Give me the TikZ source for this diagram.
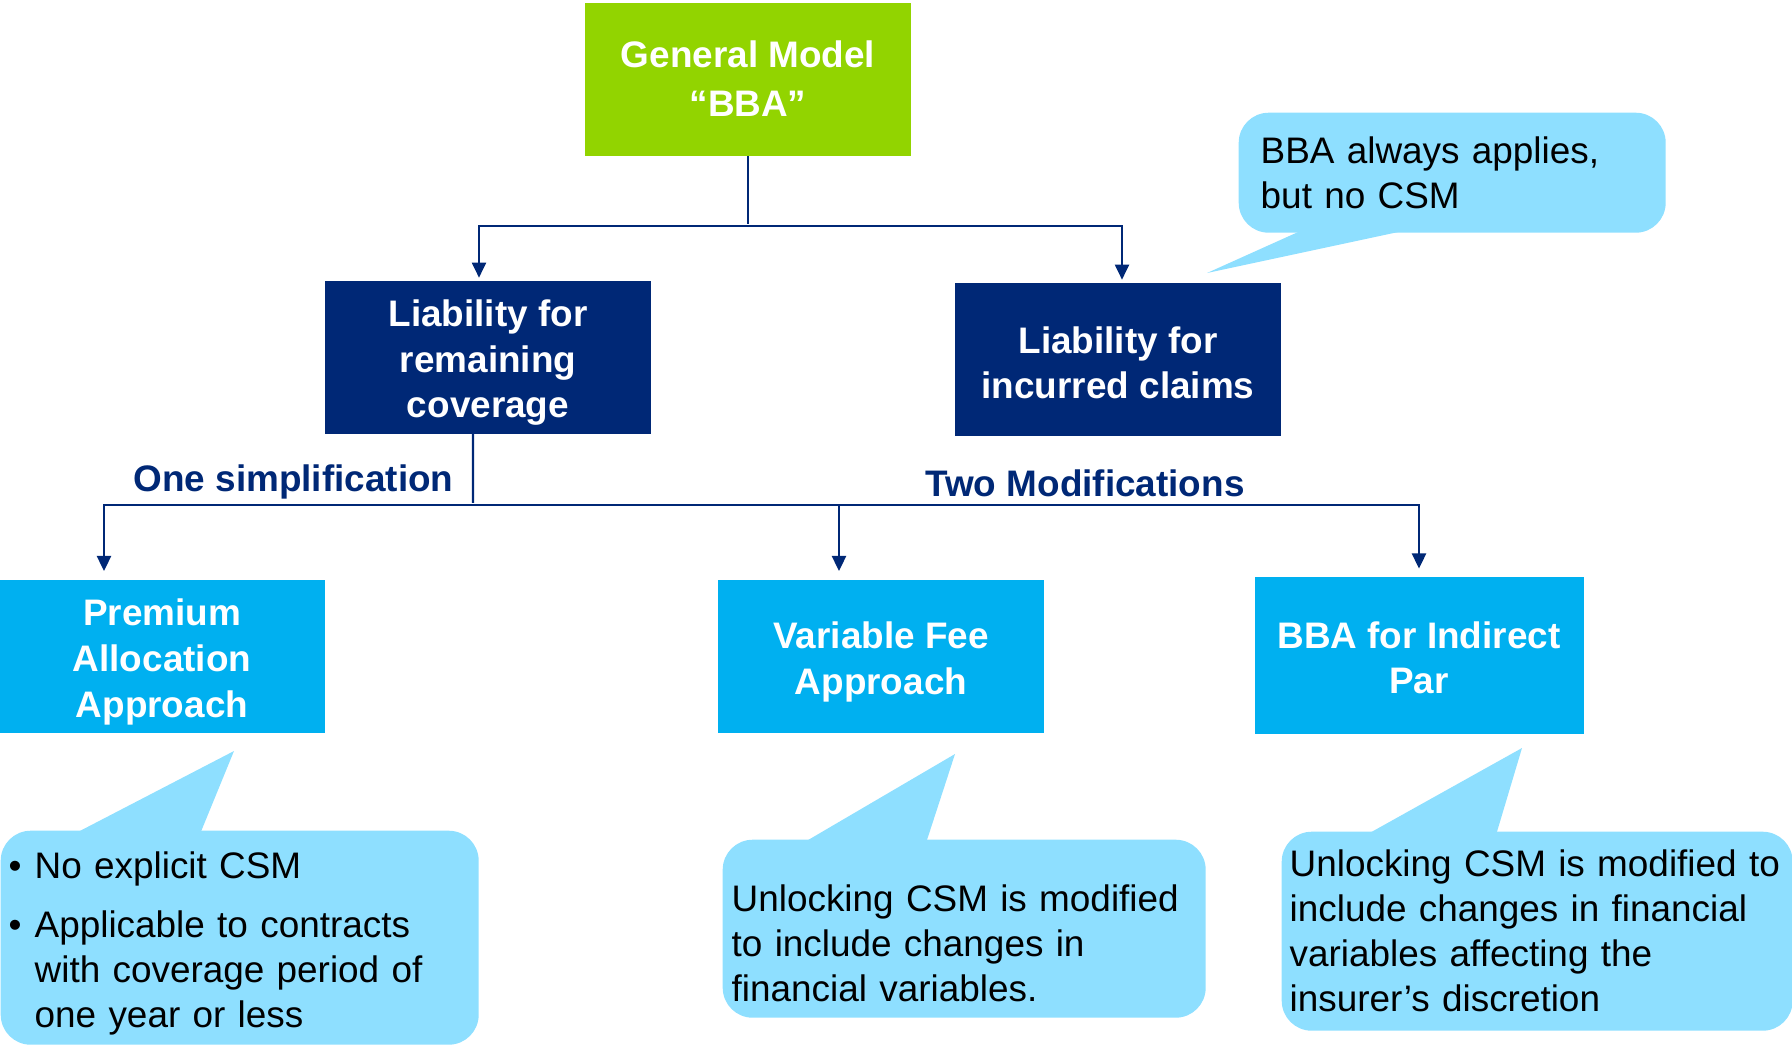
\documentclass[tikz,border=0pt]{standalone}
\usepackage{fontspec}
\setmainfont{Liberation Sans}
\usetikzlibrary{arrows.meta,positioning,calc}
\definecolor{modelgreen}{RGB}{146,212,0}
\definecolor{liabnavy}{RGB}{0,40,118}
\definecolor{approachcyan}{RGB}{0,176,240}
\definecolor{notecyan}{RGB}{142,223,255}

\begin{document}
\begin{tikzpicture}[
    block/.style={minimum width=3.26cm, minimum height=1.53cm, inner sep=0, align=center, text=white, font=\bfseries\fontsize{10.5}{13}\selectfont},
    link/.style={draw=liabnavy, line width=0.6pt, -{Triangle[width=4pt,length=4.3pt]}, shorten >=0.6pt},
    note/.style={fill=notecyan, rounded corners=0.3cm, anchor=north west, align=left, inner ysep=0, font=\fontsize{10.5}{12.8}\selectfont},
    tail/.style={fill=notecyan},
    tag/.style={anchor=base, text=liabnavy, font=\bfseries\fontsize{10.5}{12}\selectfont}
]
    \useasboundingbox (0,0) rectangle (17.92,-10.44);

    % Blocks
    \node[block, fill=modelgreen, font=\bfseries\fontsize{10.5}{14}\selectfont] (model) at (7.48,-0.79) {General Model\\“BBA”};
    \node[block, fill=liabnavy] (remaining) at (4.88,-3.57) {\rule{0pt}{10.9pt}Liability for\\remaining\\coverage};
    \node[block, fill=liabnavy] (incurred) at (11.18,-3.59) {\rule{0pt}{9.7pt}Liability for\\incurred claims};
    \node[block, fill=approachcyan] (paa) at (1.62,-6.56) {\rule{0pt}{10.9pt}Premium\\Allocation\\Approach};
    \node[block, fill=approachcyan] (vfa) at (8.81,-6.56) {\rule{0pt}{10.9pt}Variable Fee\\Approach};
    \node[block, fill=approachcyan, minimum width=3.29cm, minimum height=1.57cm] (indirect) at (14.19,-6.555) {\rule{0pt}{8.9pt}BBA for Indirect\\Par};

    % Connections
    \coordinate (upsplit) at (7.48,-2.26);
    \coordinate (downsplit) at (4.73,-5.05);
    \draw[link, -] (model.south) -- (upsplit);
    \draw[link] (upsplit) -| ([xshift=-0.09cm]remaining.north);
    \draw[link] (upsplit) -| ([xshift=0.04cm]incurred.north);
    \draw[link, -] ([xshift=-0.15cm]remaining.south) -- (downsplit);
    \draw[link, shorten >=2.2pt] (downsplit) -| ([xshift=-0.58cm]paa.north);
    \draw[link, shorten >=2.2pt] (downsplit) -| ([xshift=-0.42cm]vfa.north);
    \draw[link, shorten >=2.2pt] (downsplit) -| (indirect.north);

    % Labels
    \node[tag] (simplify) at (2.935,-4.91) {One simplification};
    \node[tag] (modify) at (10.85,-4.96) {Two Modifications};

    % Callouts
    \fill[tail] (13.07,-2.28) -- (12.07,-2.73) -- (14.17,-2.28) -- cycle;
    \node[note, minimum width=4.27cm, minimum height=1.20cm, inner xsep=0.22cm, text width=3.83cm] (bbanote) at (12.38,-1.12) {BBA always applies,\\but no CSM};

    \fill[tail] (0.74,-8.34) -- (2.34,-7.51) -- (2.00,-8.34) -- cycle;
    \node[note, minimum width=4.78cm, minimum height=2.14cm, inner xsep=0.08cm, text width=4.62cm] (paanote) at (0,-8.30) {\rule{0pt}{11pt}\makebox[0.26cm][l]{\textbullet}No explicit CSM\\[4pt]
        \makebox[0.26cm][l]{\textbullet}Applicable to contracts\\
        \hspace*{0.26cm}with coverage period of\\
        \hspace*{0.26cm}one year or less};

    \fill[tail] (8.03,-8.43) -- (9.55,-7.54) -- (9.26,-8.43) -- cycle;
    \node[note, minimum width=4.83cm, minimum height=1.78cm, inner xsep=0.09cm, text width=4.65cm] (vfanote) at (7.22,-8.39) {\rule{0pt}{15.7pt}Unlocking CSM is modified\\to include changes in\\financial variables.};

    \fill[tail] (13.66,-8.35) -- (15.22,-7.48) -- (14.96,-8.35) -- cycle;
    \node[note, minimum width=5.11cm, minimum height=1.99cm, inner xsep=0.08cm, text width=4.95cm] (indirectnote) at (12.81,-8.31) {Unlocking CSM is modified to\\include changes in financial\\variables affecting the\\insurer’s discretion};
\end{tikzpicture}
\end{document}
